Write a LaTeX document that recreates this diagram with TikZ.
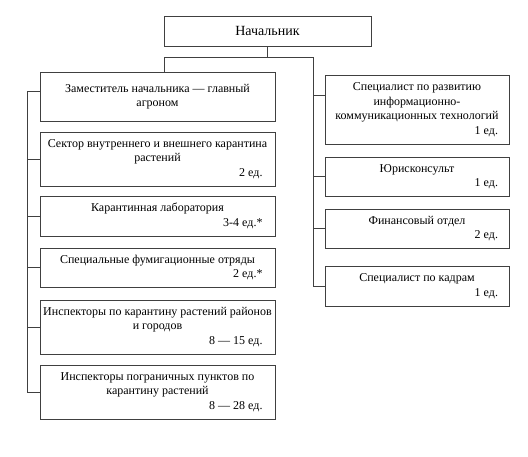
\documentclass[tikz,border=0pt]{standalone}
\usepackage{fontspec}
\setmainfont{Liberation Serif}
\newcommand\cntL[1]{\makebox[210pt][r]{#1}}
\newcommand\cntR[1]{\makebox[162pt][r]{#1}}
\begin{document}
\begin{tikzpicture}[x=1pt,y=-1pt,
  box/.style={draw=black!75, line width=0.8pt, rectangle, align=center, inner sep=0pt,
    font=\fontsize{12}{14.5}\selectfont},
  lbox/.style={box, minimum width=235pt},
  rbox/.style={box, minimum width=184pt},
  link/.style={draw=black!75, line width=0.8pt}]
\useasboundingbox[fill=white] (0,0) rectangle (528,456);
\node[box, minimum width=207pt, minimum height=30pt, font=\fontsize{14}{16}\selectfont] (top) at (267.5,31) {Начальник};
% left column
\node[lbox, minimum height=49pt] (dep) at (157.5,96.5) {Заместитель начальника — главный\\агроном};
\node[lbox, minimum height=54pt] (b1) at (157.5,159) {Сектор внутреннего и внешнего карантина\\растений\\\cntL{2 ед.}};
\node[lbox, minimum height=40pt] (b2) at (157.5,216) {Карантинная лаборатория\\\cntL{3-4 ед.*}};
\node[lbox, minimum height=39pt] (b3) at (157.5,267.5) {Специальные фумигационные отряды\\\cntL{2 ед.*}};
\node[lbox, minimum height=54pt] (b4) at (157.5,327) {Инспекторы по карантину растений районов\\и городов\\\cntL{8 — 15 ед.}};
\node[lbox, minimum height=54pt] (b5) at (157.5,392) {Инспекторы пограничных пунктов по\\карантину растений\\\cntL{8 — 28 ед.}};
% right column
\node[rbox, minimum height=69pt] (r1) at (417,109.5) {Специалист по развитию\\информационно-\\коммуникационных технологий\\\cntR{1 ед.}};
\node[rbox, minimum height=39pt] (r2) at (417,176.5) {Юрисконсульт\\\cntR{1 ед.}};
\node[rbox, minimum height=39pt] (r3) at (417,228.5) {Финансовый отдел\\\cntR{2 ед.}};
\node[rbox, minimum height=40pt] (r4) at (417,286) {Специалист по кадрам\\\cntR{1 ед.}};
% connectors
\coordinate (lb) at (164,57);
\coordinate (rb) at (313,57);
\draw[link] (top.south) -- (top.south |- lb);
\draw[link] (lb) -- (rb);
\draw[link] (lb) -- (lb |- dep.north);
\draw[link] (rb) |- (r4.west);
\draw[link] ([yshift=14.5pt]r1.west) -- ++(-12,0);
\draw[link] (r2.west) -- ++(-12,0);
\draw[link] (r3.west) -- ++(-12,0);
\draw[link] ([yshift=5.5pt]dep.west) -- ++(-12,0) |- (b5.west);
\draw[link] (b1.west) -- ++(-12,0);
\draw[link] (b2.west) -- ++(-12,0);
\draw[link] (b3.west) -- ++(-12,0);
\draw[link] (b4.west) -- ++(-12,0);
\end{tikzpicture}
\end{document}
